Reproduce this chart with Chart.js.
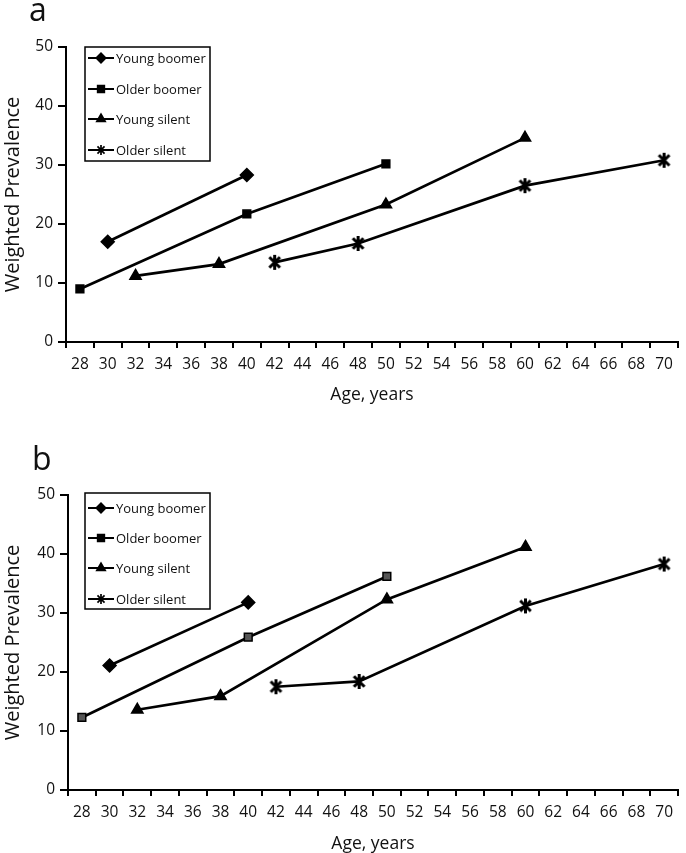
<!DOCTYPE html>
<html>
<head>
<meta charset="utf-8">
<script src="https://cdn.jsdelivr.net/npm/chart.js@4.4.1/dist/chart.umd.min.js"></script>
<style>
  body { margin: 0; background: #fff; }
  #wrap { position: relative; width: 686px; height: 853px; overflow: hidden; }
  canvas { position: absolute; left: 0; }
  #chartA { top: 0; }
  #chartB { top: 440px; }
</style>
</head>
<body>
<div id="wrap">
  <canvas id="chartA" width="686" height="420"></canvas>
  <canvas id="chartB" width="686" height="420"></canvas>
</div>
<script>
// ages on the x axis (category labels)
const ageLabels = ["28","30","32","34","36","38","40","42","44","46","48","50",
                   "52","54","56","58","60","62","64","66","68","70"];
const seriesNames = ["Young boomer", "Older boomer", "Young silent", "Older silent"];

// ages at which each cohort was measured
const youngBoomerAges = [30, 40];
const olderBoomerAges = [28, 40, 50];
const youngSilentAges = [32, 38, 50, 60];
const olderSilentAges = [42, 48, 60, 70];

// panel a
const aYoungBoomer = [17.0, 28.3];
const aOlderBoomer = [9.0, 21.7, 30.2];
const aYoungSilent = [11.2, 13.2, 23.3, 34.6];
const aOlderSilent = [13.5, 16.7, 26.5, 30.8];

// panel b
const bYoungBoomer = [21.1, 31.8];
const bOlderBoomer = [12.3, 25.9, 36.2];
const bYoungSilent = [13.6, 15.9, 32.3, 41.2];
const bOlderSilent = [17.5, 18.4, 31.2, 38.3];

const yTicks = [0, 10, 20, 30, 40, 50];

Chart.defaults.font.family = '"Open Sans", sans-serif';
Chart.defaults.color = "#111";

// asterisk marker (X plus vertical bar)
function asterisk(size, lw) {
  const c = document.createElement("canvas");
  c.width = c.height = size;
  const g = c.getContext("2d");
  const m = size / 2, r = size / 2 - 1;
  const d = r * Math.SQRT1_2;
  g.strokeStyle = "#000";
  g.lineWidth = lw;
  g.beginPath();
  g.moveTo(m, m - r); g.lineTo(m, m + r);
  g.moveTo(m - d, m - d); g.lineTo(m + d, m + d);
  g.moveTo(m + d, m - d); g.lineTo(m - d, m + d);
  g.stroke();
  return c;
}
const starBig = asterisk(17, 3);
const starSmall = asterisk(12, 1.7);

function pts(ages, vals) {
  return ages.map((a, i) => ({ x: String(a), y: vals[i] }));
}

// legend box drawn inside the plot
const boxLegend = {
  id: "boxLegend",
  afterDraw(chart, args, o) {
    const ctx = chart.ctx;
    ctx.save();
    ctx.strokeStyle = "#000";
    ctx.lineWidth = 1.5;
    ctx.strokeRect(o.x, o.y, o.w, o.h);
    ctx.font = '13px "Open Sans", sans-serif';
    ctx.textBaseline = "middle";
    chart.data.datasets.forEach((ds, i) => {
      const ry = o.y + o.rows[i];
      ctx.strokeStyle = "#000";
      ctx.lineWidth = 2;
      ctx.beginPath();
      ctx.moveTo(o.x + 3, ry);
      ctx.lineTo(o.x + 29, ry);
      ctx.stroke();
      ctx.fillStyle = "#000";
      const ps = ds.pointStyle === starBig ? starSmall : ds.pointStyle;
      Chart.helpers.drawPoint(ctx, { pointStyle: ps, radius: 4.5, borderWidth: 1, rotation: 0 }, o.x + 16, ry);
      ctx.fillStyle = "#111";
      ctx.fillText(ds.label, o.x + 31, ry + 1);
    });
    // panel letter
    ctx.font = '32px "Open Sans", sans-serif';
    ctx.textBaseline = "alphabetic";
    ctx.fillStyle = "#111";
    ctx.fillText(o.letter, o.lx, o.ly);
    ctx.restore();
  }
};

function makePanel(id, vals, L) {
  const styles = ["rectRot", "rect", "triangle", starBig];
  const ages = [youngBoomerAges, olderBoomerAges, youngSilentAges, olderSilentAges];
  const datasets = vals.map((v, i) => ({
    label: seriesNames[i],
    data: pts(ages[i], v),
    borderColor: "#000",
    borderWidth: 2.7,
    pointStyle: styles[i],
    pointRadius: i === 1 ? 5.5 : 6.5,
    pointBackgroundColor: (i === 1 && L.greySquare) ? "#555" : "#000",
    pointBorderColor: "#000",
    pointBorderWidth: 1.5,
    tension: 0
  }));

  new Chart(document.getElementById(id), {
    type: "line",
    data: { labels: ageLabels, datasets },
    options: {
      responsive: false,
      animation: false,
      devicePixelRatio: 1,
      layout: { padding: { top: L.top, right: L.right, left: 0, bottom: 0 } },
      plugins: {
        legend: { display: false },
        tooltip: { enabled: false },
        boxLegend: L.legend
      },
      scales: {
        x: {
          type: "category",
          offset: true,
          grid: { offset: true, drawOnChartArea: false, drawTicks: true, tickLength: 6, lineWidth: 2, color: "#000" },
          border: { display: true, color: "#000", width: 2 },
          ticks: { padding: 7, font: { size: 15.5 }, autoSkip: false, maxRotation: 0 },
          title: { display: true, text: "Age, years", font: { size: 17.5 }, padding: { top: 0, bottom: L.xTitlePad } },
          afterFit(s) { s.height = L.xAxisH; }
        },
        y: {
          min: 0,
          max: 50,
          afterBuildTicks(s) { s.ticks = yTicks.map(v => ({ value: v })); },
          grid: { drawOnChartArea: false, tickLength: 8, lineWidth: 2, color: "#000" },
          border: { display: true, color: "#000", width: 2 },
          ticks: { padding: 5, font: { size: 15.5 } },
          title: { display: true, text: "Weighted Prevalence", font: { size: 20 }, padding: { top: 1, bottom: 0 } },
          afterFit(s) { s.width = L.yAxisW; }
        }
      }
    },
    plugins: [boxLegend]
  });
}

makePanel("chartA", [aYoungBoomer, aOlderBoomer, aYoungSilent, aOlderSilent], {
  top: 47, right: 1, xAxisH: 78, xTitlePad: 14, yAxisW: 66, greySquare: false,
  legend: { x: 85, y: 47, w: 125, h: 114, rows: [11, 42, 72, 103], letter: "a", lx: 29, ly: 21 }
});

makePanel("chartB", [bYoungBoomer, bOlderBoomer, bYoungSilent, bOlderSilent], {
  top: 55, right: 0, xAxisH: 70, xTitlePad: 5, yAxisW: 68, greySquare: true,
  legend: { x: 85, y: 53, w: 125, h: 116, rows: [15, 45, 75, 106], letter: "b", lx: 32, ly: 30 }
});
</script>
</body>
</html>
